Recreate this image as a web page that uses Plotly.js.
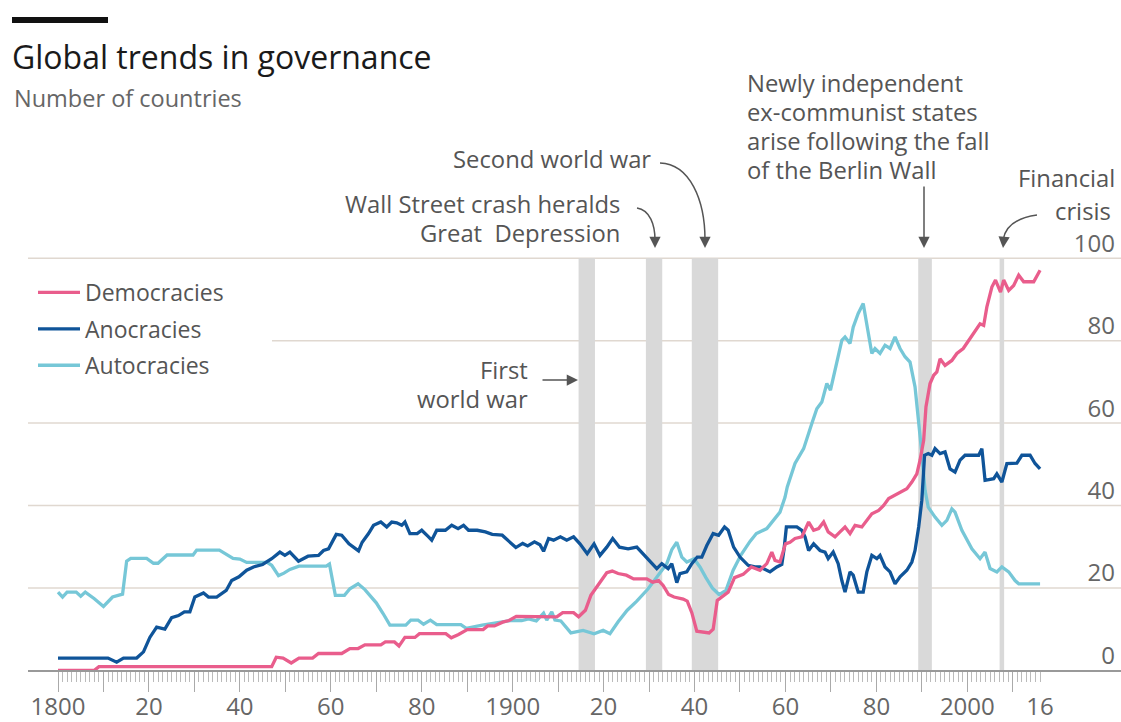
<!DOCTYPE html>
<html>
<head>
<meta charset="utf-8">
<script src="https://cdn.plot.ly/plotly-3.0.1.min.js"></script>
<style>
  html, body { margin: 0; padding: 0; background: #fff; }
  #chart { width: 1121px; height: 722px; }
</style>
</head>
<body>
<div id="chart"></div>
<script>
// ---------------- DATA ----------------
const seriesNames = ["Democracies", "Anocracies", "Autocracies"];

const demYears = [1800,1808,1809,1847,1848,1849.5,1851.3,1853,1856,1857.3,1862.4,1864.2,1866,1867.5,1871,1872,1874,1875,1876.3,1878.5,1879.5,1885.3,1886.5,1888.1,1890,1893.5,1894.5,1896,1897.8,1899.2,1900.8,1909.7,1911,1913.4,1914.5,1916,1917.2,1919,1920.7,1921.9,1923.2,1925,1926.6,1929.5,1930.8,1932.1,1933.1,1934.3,1935.5,1937.5,1938.4,1939.4,1940.5,1943.2,1944.1,1945,1946.3,1947.4,1948.8,1950.7,1952.5,1954.4,1955.9,1957,1957.7,1958.8,1960,1961,1962.1,1963.6,1965.1,1966.2,1967.3,1968.4,1969.4,1970.9,1972,1973.1,1974.2,1975.3,1976.8,1977.9,1979,1980.5,1981.6,1982.7,1984.1,1985.2,1986.7,1987.8,1988.9,1989.6,1990.4,1990.9,1991.8,1992.6,1993.3,1994,1995.1,1996.6,1997.7,1999.1,2000.3,2001.7,2002.8,2003.6,2004.3,2005.4,2006.2,2007.3,2008,2009.1,2010.2,2011.3,2012.4,2014.6,2015.3,2016];
const demValues = [0,0,0.9,0.9,3.2,3,1.8,3,3,4.1,4.1,5.3,5.3,6.2,6.2,6.9,6.9,5.9,8,8,8.9,8.9,7.9,8.7,9.9,9.9,10.8,10.8,11.7,12.1,13.1,13,14,14,13,14.6,18.2,21.2,23.7,24.1,23.5,23.1,22.2,22.2,21.4,21.8,20.6,18.4,17.8,17.3,16.8,14,9.5,9.1,10,17,18,19,22.5,23.3,25.1,24.3,25.9,28.7,26.7,26.3,30.7,31.1,32,32.4,36,34,34.4,36,33.6,32.4,33.6,34.8,33.2,35.2,34.8,36.4,38,38.8,40,41.7,42.5,43.3,44.1,45.7,47.7,51,55.8,63.9,69.6,71.6,72.4,75.6,74,75.2,76.9,78.1,80.1,82.5,84.1,83.7,88.2,93,94.7,91.8,94.7,92.2,93.4,95.9,94.3,94.3,95.9,97.1];

const anoYears = [1800,1811,1812.9,1814.4,1817.3,1818.8,1820.2,1821.7,1823.5,1825,1826.5,1827.8,1829,1830.1,1832,1833.1,1834.9,1837,1838.2,1839.8,1841.5,1843,1845,1847,1848.8,1849.9,1851,1852.9,1855,1857.3,1858.4,1859.5,1861.2,1862.4,1864,1865,1866.1,1866.9,1868.3,1869.4,1871,1872.3,1873.4,1874.5,1875.6,1876.3,1877.4,1879,1880,1881.5,1882.2,1883.3,1885.2,1886.6,1888,1889.2,1890.3,1892.2,1894,1895.5,1897.7,1899.2,1900.7,1902.2,1903.3,1904.8,1906,1906.8,1907.9,1909,1910.5,1911.9,1913.4,1914.8,1916.4,1917.9,1919.2,1920.7,1922,1923.5,1925.4,1927.3,1928.7,1930.6,1931.7,1932.8,1934.2,1935,1936.1,1936.8,1938.3,1939.4,1940.6,1941.6,1942.7,1944.1,1945.3,1946.6,1947.4,1948.6,1950,1951.8,1953.3,1954.4,1956.6,1958.1,1959.2,1959.7,1960.2,1962.5,1963.6,1964.3,1965.1,1966.2,1967.6,1968.7,1969.4,1970.5,1971.6,1972.4,1973.1,1974.2,1974.9,1976,1977.1,1977.9,1979,1980.1,1980.8,1981.9,1983,1984.1,1985.2,1986.7,1987.8,1988.5,1989.3,1990,1990.6,1991.4,1992.2,1992.9,1994,1995.1,1996.2,1997.3,1998.4,1999.5,2002.5,2003.2,2003.9,2005.8,2006.5,2007.6,2008.7,2010.9,2012,2013.8,2014.9,2016];
const anoValues = [3,3,2,3,3,4.5,8,10.5,10,12.8,13.3,14.2,14.2,17.8,18.8,17.8,17.8,19.4,21.8,22.7,24.3,25.1,25.7,27.1,28.7,27.9,28.7,26.5,27.7,27.9,29.1,29.5,33,32.8,30.7,29.9,29,31.1,33.2,35.2,36,34.8,36,35.8,35.2,36,33.2,33.2,34,32.4,31.6,34,34,35.2,34.4,35.2,34,34,33.6,33,32.8,31.3,29.8,30.8,30.2,31.2,30.5,28.9,32,31.6,32.4,31.6,32.4,30.7,28.3,30.7,27.9,29.9,32,29.9,29.5,29.9,28.3,25.9,24.7,25.9,24.7,25.9,21.3,23.5,23.9,25.9,27.5,27.5,30.3,33.2,32.8,34.8,34,29.9,27.5,25.5,25.1,25.1,23.9,25.1,25.7,29.5,34.8,34.8,34,32.4,29.1,30.7,29.1,28.7,27.1,28.7,25.9,21.8,19,23.9,23.1,19,19,23.9,27.9,27.1,27.9,25.1,23.9,21,22.7,24.3,26.3,29.1,34.8,41.3,52.2,52.6,52.2,53.8,52.6,53,48.9,48.1,51,52.2,52.2,53.8,46.1,46.5,47.7,45.7,50.2,50.3,52.2,52.2,50.2,48.9];

const autYears = [1800,1801,1802,1804,1805,1806,1808,1810,1812,1814.2,1815.1,1816,1819.5,1821,1822,1824,1829.7,1830.5,1835.5,1838.5,1840,1841.5,1846,1847,1848.5,1849.7,1851,1853,1859,1859.7,1861,1863,1864.2,1866,1867.5,1869,1870,1871.5,1873,1876.5,1877.6,1879.2,1880.4,1881.9,1883.3,1888.6,1889.8,1893.3,1897.7,1899.5,1902,1903.5,1905.2,1906.8,1907.5,1908.6,1909.3,1910.6,1912.8,1915.5,1917.9,1919.9,1921.4,1923.2,1925.2,1927.3,1929.8,1932,1933.9,1935,1936.1,1937.2,1938.3,1939.9,1941.2,1942.5,1943.9,1945.4,1946.9,1948.5,1950.2,1952.2,1953.6,1955.9,1957.3,1958.8,1959.9,1960.4,1962.1,1964,1965.8,1966.9,1968,1969.1,1969.9,1970.9,1972.4,1973.1,1974.2,1974.9,1976,1977.1,1977.9,1979,1979.7,1980.8,1981.9,1983,1984.1,1985.2,1986.3,1987.4,1988.5,1989.3,1990,1990.7,1991.4,1992.9,1994.4,1995.5,1996.6,1997.3,1998.8,2001,2002.8,2003.9,2005,2006.5,2007.6,2009.1,2010.5,2011.3,2016];
const autValues = [19,17.8,19,19,18,19,17.4,15.5,17.8,18.5,26.5,27.2,27.2,26,26,28,28,29.2,29.2,27.2,27,26.2,26.2,25.5,23,23.6,24.5,25.3,25.3,25.8,18.2,18.2,19.8,21,19.6,17.6,16.4,13.8,11,11,12.2,12.2,11.2,12.2,11.1,11.1,10.2,11,11.7,12.1,12.1,12.5,12,13.9,12.2,14.2,12.2,12,9.1,9.7,8.9,9.7,8.9,11.8,14.6,16.8,19.8,22.9,25.9,29.3,31.1,27.5,26.3,27.1,25.1,22.5,20,18.4,19.4,24.3,28,31.3,33.2,34.4,36.4,38.4,42,44.5,50.2,53.8,59.9,63.5,65.1,69.6,68,73.2,80.1,80.9,79.3,83.3,86.6,89,83.7,76.9,78.1,76.9,78.9,78.1,80.9,78.1,76.1,74.8,68.8,60.7,52.6,43.7,39.6,37.2,35.2,36.4,39.2,38.4,34,29.5,27.1,28.7,24.7,23.9,25.1,23.9,21.8,21,21];

// event periods (shaded)
const eventStarts = [1914.5, 1929.3, 1939.4, 1989.2, 2007.1];
const eventEnds   = [1918.1, 1932.9, 1945.2, 1992.2, 2008.1];

// axis ticks
const gridValues = [0, 20, 40, 60, 80, 100];
const majorTickYears = [1800,1810,1820,1830,1840,1850,1860,1870,1880,1890,1900,1910,1920,1930,1940,1950,1960,1970,1980,1990,2000,2010];
const labelYears = [1800,1820,1840,1860,1880,1900,1920,1940,1960,1980,2000,2016];
const labelTexts = ["1800","20","40","60","80","1900","20","40","60","80","2000","16"];

const colors = { dem: "#e95d8c", ano: "#0f5499", aut: "#76c7d7" };

// ---------------- LAYOUT HELPERS ----------------
const W = 1121, H = 722, L = 28, R = 0, T = 222, B = 31;
const plotW = W - L - R, plotH = H - T - B;
const PXU = 4.1215;                        // pixels per country
const Y0 = -5, Y1 = Y0 + plotH / PXU;
const px = p => (p - L) / plotW;          // pixel x -> paper x
const py = p => (H - B - p) / plotH;      // pixel y -> paper y
const FONT = "Open Sans, sans-serif";

const minorYears = [];
for (let y = majorTickYears[0]; y <= 2016; y++) minorYears.push(y);

const traces = [
  { name: seriesNames[2], legendgroup: "c", legendrank: 3, x: autYears, y: autValues, type: "scatter", mode: "lines",
    line: { color: colors.aut, width: 3.3 }, hoverinfo: "skip" },
  { name: seriesNames[1], legendgroup: "b", legendrank: 2, x: anoYears, y: anoValues, type: "scatter", mode: "lines",
    line: { color: colors.ano, width: 3.3 }, hoverinfo: "skip" },
  { name: seriesNames[0], legendgroup: "a", legendrank: 1, x: demYears, y: demValues, type: "scatter", mode: "lines",
    line: { color: colors.dem, width: 3.3 }, hoverinfo: "skip" },
  { x: [1800], y: [null], xaxis: "x2", type: "scatter", mode: "lines", showlegend: false, hoverinfo: "skip" }
];

const shapes = [];
// top black rule
shapes.push({ type: "rect", xref: "paper", yref: "paper", x0: px(12), x1: px(108), y0: py(23), y1: py(17),
  fillcolor: "#111", line: { width: 0 }, layer: "above" });
// gridlines
gridValues.forEach(v => {
  if (v === 0) return;
  shapes.push({ type: "line", xref: "paper", yref: "y", x0: v === 80 ? px(272) : 0, x1: 1, y0: v, y1: v,
    line: { color: "#e0d8d0", width: 1.5 }, layer: "below" });
});
// shaded event bands
eventStarts.forEach((s, i) => {
  shapes.push({ type: "rect", xref: "x", yref: "y", x0: s, x1: eventEnds[i], y0: 0, y1: 100,
    fillcolor: "#d9d9d9", line: { width: 0 }, layer: "below" });
});
// curved arrow stems
function curve(p0, c1, c2, p1) {
  return `M ${px(p0[0])},${py(p0[1])} C ${px(c1[0])},${py(c1[1])} ${px(c2[0])},${py(c2[1])} ${px(p1[0])},${py(p1[1])}`;
}
const arrowColor = "#555";
[
  curve([660,163],[690,164],[705,200],[705,240]),
  curve([637,208],[650,210],[655,225],[655,240]),
  curve([1037,215],[1015,218],[1005,228],[1003,240])
].forEach(path => shapes.push({ type: "path", xref: "paper", yref: "paper", path,
  line: { color: arrowColor, width: 1.5 }, layer: "above" }));

const annotations = [];
function note(text, x, y, xanchor, size, color) {
  annotations.push({ text, xref: "paper", yref: "paper", x: px(x), y: py(y), xanchor, yanchor: "middle",
    showarrow: false, font: { family: FONT, size: size || 23.8, color: color || "#555" } });
}
function arrow(x, y, dx, dy) {
  annotations.push({ text: "", xref: "paper", yref: "paper", x: px(x), y: py(y), ax: dx, ay: dy,
    axref: "pixel", ayref: "pixel", showarrow: true, arrowhead: 2, arrowsize: 1.5, arrowwidth: 1.5,
    arrowcolor: arrowColor, standoff: 0 });
}
note("Number of countries", 12, 98, "left", 23.5, "#666");
note("Second world war", 653, 159, "right");
note("Wall Street crash heralds", 622, 204, "right");
note("Great&nbsp;&nbsp;Depression", 622, 233, "right");
note("First", 530, 370, "right");
note("world war", 530, 399, "right");
note("Newly independent", 745, 83, "left");
note("ex-communist states", 745, 112, "left");
note("arise following the fall", 745, 141, "left");
note("of the Berlin Wall", 745, 170, "left");
note("Financial", 1117, 178, "right");
note("crisis", 1113, 211, "right");
arrow(578, 380, -37, 0);
arrow(924, 248, 0, -63);
arrow(705, 248, 0, -10);
arrow(655, 248, 0, -10);
arrow(1003, 248, 1, -10);

const layout = {
  width: W, height: H,
  margin: { l: L, r: R, t: T, b: B, pad: 0 },
  paper_bgcolor: "#fff", plot_bgcolor: "#fff",
  font: { family: FONT, color: "#555" },
  title: { text: "Global trends in governance", xref: "container", yref: "container",
    x: 12 / W, xanchor: "left", y: 1 - 58 / H, yanchor: "middle",
    font: { family: FONT, size: 32, color: "#1a1a1a" } },
  showlegend: true,
  legend: { x: px(33), y: py(271), xanchor: "left", yanchor: "top", traceorder: "grouped",
    tracegroupgap: 3.5, bgcolor: "rgba(0,0,0,0)", itemwidth: 42,
    font: { family: FONT, size: 23, color: "#555" } },
  xaxis: { range: [1800 - (58 - L) / 4.5466, 1800 + (W - R - 58) / 4.5466], anchor: "free", position: -Y0 / (Y1 - Y0),
    showgrid: false, zeroline: false, showline: true, linecolor: "#999", linewidth: 1.5,
    tickmode: "array", tickvals: majorTickYears, ticks: "outside", ticklen: 20, tickwidth: 1, tickcolor: "#aaa",
    showticklabels: false, fixedrange: true,
    minor: { tickmode: "array", tickvals: minorYears, ticks: "outside", ticklen: 10, tickwidth: 1, tickcolor: "#bbb", showgrid: false } },
  xaxis2: { overlaying: "x", matches: "x", anchor: "free", position: -Y0 / (Y1 - Y0), side: "bottom",
    showgrid: false, zeroline: false, showline: false,
    tickmode: "array", tickvals: labelYears, ticktext: labelTexts, ticks: "outside", ticklen: 15,
    tickcolor: "rgba(0,0,0,0)", tickfont: { family: FONT, size: 24, color: "#666" }, fixedrange: true },
  yaxis: { range: [Y0, Y1], side: "right", ticklabelposition: "inside", tickmode: "array", tickvals: gridValues,
    ticks: "", showgrid: false, zeroline: false, showline: false, ticklabelshift: -15, ticklabelstandoff: 3,
    tickfont: { family: FONT, size: 24, color: "#666" }, fixedrange: true },
  shapes, annotations
};

Plotly.newPlot("chart", traces, layout, { displayModeBar: false, staticPlot: true });
</script>
</body>
</html>
